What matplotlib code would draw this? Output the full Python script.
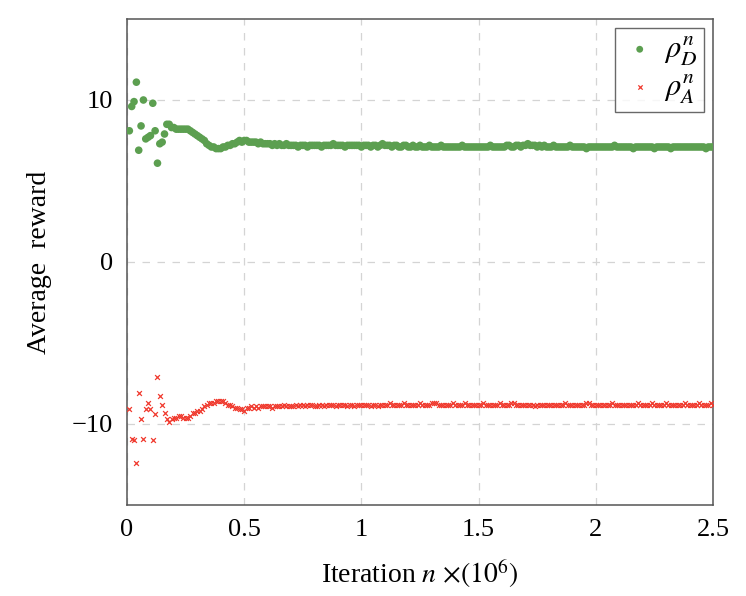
import numpy as np
import matplotlib.pyplot as plt

# iteration grid (x 10^6)
iterations = np.arange(1, 251) * 0.01

#average reward of the defender
rho_d = [
    8.1, 9.6, 9.9, 11.1, 6.9, 8.4, 10.0, 7.6, 7.7, 7.8,
    9.8, 8.1, 6.1, 7.3, 7.4, 7.9, 8.5, 8.5, 8.3, 8.3,
    8.2, 8.2, 8.2, 8.2, 8.2, 8.2, 8.1, 8.0, 7.9, 7.8,
    7.7, 7.6, 7.5, 7.3, 7.2, 7.1, 7.1, 7.0, 7.0, 7.0,
    7.1, 7.1, 7.2, 7.2, 7.3, 7.3, 7.4, 7.5, 7.4, 7.5,
    7.5, 7.4, 7.4, 7.4, 7.4, 7.3, 7.4, 7.3, 7.3, 7.3,
    7.3, 7.2, 7.3, 7.2, 7.3, 7.2, 7.2, 7.3, 7.2, 7.2,
    7.2, 7.2, 7.1, 7.2, 7.2, 7.2, 7.1, 7.2, 7.2, 7.2,
    7.2, 7.2, 7.1, 7.2, 7.2, 7.2, 7.2, 7.3, 7.2, 7.2,
    7.2, 7.2, 7.1, 7.2, 7.2, 7.2, 7.2, 7.2, 7.2, 7.1,
    7.2, 7.2, 7.2, 7.1, 7.2, 7.2, 7.1, 7.2, 7.3, 7.2,
    7.2, 7.2, 7.1, 7.2, 7.2, 7.1, 7.1, 7.2, 7.2, 7.1,
    7.1, 7.2, 7.1, 7.1, 7.2, 7.1, 7.1, 7.1, 7.2, 7.1,
    7.1, 7.1, 7.1, 7.2, 7.1, 7.1, 7.1, 7.1, 7.1, 7.1,
    7.1, 7.1, 7.2, 7.1, 7.1, 7.1, 7.1, 7.1, 7.1, 7.1,
    7.1, 7.1, 7.1, 7.1, 7.2, 7.1, 7.1, 7.1, 7.1, 7.1,
    7.1, 7.2, 7.2, 7.1, 7.1, 7.2, 7.2, 7.1, 7.2, 7.2,
    7.3, 7.2, 7.2, 7.2, 7.1, 7.2, 7.1, 7.2, 7.1, 7.1,
    7.1, 7.2, 7.1, 7.1, 7.1, 7.1, 7.1, 7.1, 7.2, 7.1,
    7.1, 7.1, 7.1, 7.1, 7.1, 7.0, 7.1, 7.1, 7.1, 7.1,
    7.1, 7.1, 7.1, 7.1, 7.1, 7.1, 7.1, 7.2, 7.1, 7.1,
    7.1, 7.1, 7.1, 7.1, 7.1, 7.0, 7.1, 7.1, 7.1, 7.1,
    7.1, 7.1, 7.1, 7.1, 7.0, 7.1, 7.1, 7.1, 7.1, 7.1,
    7.1, 7.0, 7.1, 7.1, 7.1, 7.1, 7.1, 7.1, 7.1, 7.1,
    7.1, 7.1, 7.1, 7.1, 7.1, 7.1, 7.0, 7.1, 7.1, 7.1,
]

#average reward of the attacker
rho_a = [
    -9.1, -10.9, -11.0, -12.4, -8.1, -9.7, -10.9, -9.1, -8.7, -9.1,
    -11.0, -9.4, -7.1, -8.3, -8.8, -9.3, -9.7, -9.9, -9.7, -9.6,
    -9.6, -9.5, -9.5, -9.6, -9.6, -9.6, -9.5, -9.3, -9.3, -9.2,
    -9.2, -9.1, -8.9, -8.8, -8.7, -8.7, -8.7, -8.6, -8.6, -8.6,
    -8.6, -8.7, -8.8, -8.8, -8.9, -9.0, -9.0, -9.1, -9.1, -9.2,
    -9.0, -9.0, -8.9, -9.0, -8.9, -9.0, -8.9, -8.9, -8.9, -8.9,
    -8.9, -9.0, -8.9, -8.9, -8.9, -8.9, -8.8, -8.9, -8.9, -8.9,
    -8.9, -8.8, -8.9, -8.8, -8.8, -8.9, -8.8, -8.8, -8.8, -8.9,
    -8.9, -8.8, -8.8, -8.9, -8.8, -8.8, -8.8, -8.8, -8.9, -8.8,
    -8.8, -8.8, -8.8, -8.9, -8.8, -8.8, -8.9, -8.8, -8.8, -8.8,
    -8.8, -8.8, -8.8, -8.9, -8.8, -8.8, -8.9, -8.8, -8.8, -8.8,
    -8.8, -8.7, -8.8, -8.8, -8.8, -8.8, -8.8, -8.7, -8.8, -8.8,
    -8.8, -8.8, -8.8, -8.8, -8.7, -8.8, -8.8, -8.8, -8.8, -8.7,
    -8.7, -8.7, -8.8, -8.8, -8.8, -8.8, -8.8, -8.8, -8.7, -8.8,
    -8.8, -8.8, -8.8, -8.7, -8.8, -8.8, -8.8, -8.8, -8.8, -8.8,
    -8.8, -8.7, -8.8, -8.8, -8.8, -8.8, -8.8, -8.8, -8.7, -8.8,
    -8.8, -8.8, -8.8, -8.7, -8.7, -8.8, -8.8, -8.8, -8.8, -8.8,
    -8.8, -8.8, -8.8, -8.9, -8.8, -8.8, -8.8, -8.8, -8.8, -8.8,
    -8.8, -8.8, -8.8, -8.8, -8.8, -8.8, -8.7, -8.8, -8.8, -8.8,
    -8.8, -8.8, -8.8, -8.8, -8.8, -8.7, -8.7, -8.8, -8.8, -8.8,
    -8.8, -8.8, -8.8, -8.8, -8.8, -8.8, -8.7, -8.8, -8.8, -8.8,
    -8.8, -8.8, -8.8, -8.8, -8.8, -8.8, -8.8, -8.7, -8.8, -8.8,
    -8.8, -8.8, -8.8, -8.7, -8.8, -8.8, -8.8, -8.8, -8.8, -8.7,
    -8.8, -8.8, -8.8, -8.8, -8.8, -8.8, -8.8, -8.7, -8.8, -8.8,
    -8.8, -8.8, -8.8, -8.7, -8.8, -8.8, -8.8, -8.8, -8.7, -8.8,
]

x_ticks = [0, 0.5, 1, 1.5, 2, 2.5]
x_tick_labels = ['0', '0.5', '1', '1.5', '2', '2.5']
y_ticks = [-10, 0, 10]
y_tick_labels = ['\u221210', '0', '10']

plt.rcParams['font.family'] = ['Liberation Serif', 'DejaVu Serif']
plt.rcParams['mathtext.fontset'] = 'stix'

fig = plt.figure(figsize=(7.46, 5.96), dpi=100)
ax = fig.add_axes([127 / 746, 1 - 505 / 596, (713 - 127) / 746, (505 - 19) / 596])

ax.scatter(iterations, rho_d, s=30, color='#5c9f50', edgecolors='none',
           label=r'$\rho_D^n$', zorder=3)
ax.scatter(iterations, rho_a, s=12, marker='x', color='#f03a2e', linewidths=0.9,
           label=r'$\rho_A^n$', zorder=3)

ax.set_xlim(0, 2.5)
ax.set_ylim(-15, 15)
ax.set_xticks(x_ticks)
ax.set_xticklabels(x_tick_labels)
ax.set_yticks(y_ticks)
ax.set_yticklabels(y_tick_labels)
ax.tick_params(length=0, labelsize=19, pad=10)

#dashed grid
ax.grid(True, color='#d4d4d4', linestyle=(0, (6, 6)), linewidth=0.9, zorder=0)
ax.set_axisbelow(True)

for sp in ax.spines.values():
    sp.set_color('#555555')
    sp.set_linewidth(1.1)

ax.set_xlabel(r'Iteration $n$ $\times(10^6)$', fontsize=20, labelpad=12)
ax.set_ylabel('Average  reward', fontsize=20, labelpad=14)

leg = ax.legend(loc='upper right', fontsize=22, frameon=True, fancybox=False,
                edgecolor='#444444', handletextpad=0.2, handlelength=1.2,
                borderpad=0.2, labelspacing=0.15, markerscale=0.9,
                borderaxespad=0.3)
leg.get_frame().set_linewidth(1.0)

plt.savefig('out.png', dpi=100)
plt.close()
